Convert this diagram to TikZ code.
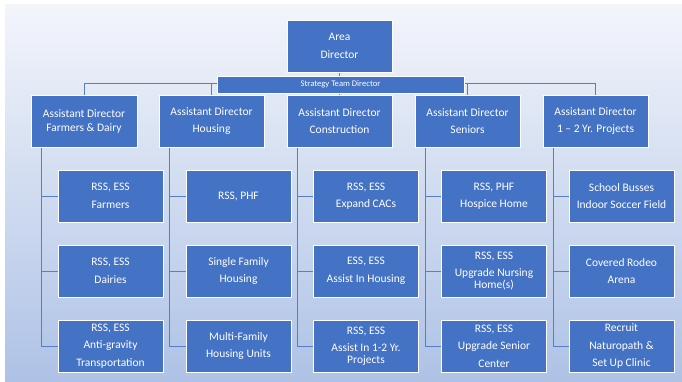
\documentclass[tikz,border=0pt]{standalone}
\usepackage{fontspec}
\setmainfont{Carlito}
\usetikzlibrary{calc,backgrounds}
\definecolor{boxblue}{HTML}{4472C4}
\definecolor{linkblue}{HTML}{5580C8}
\definecolor{bgtop}{HTML}{F3F5FB}
\definecolor{bgbot}{HTML}{AEC2E6}
\tikzset{
  orgbox/.style={draw=white, line width=0.8pt, fill=boxblue, text=white,
    minimum width=105pt, minimum height=52pt, inner sep=1pt, align=center,
    font=\fontsize{11.5}{13}\selectfont},
  stratbox/.style={draw=white, line width=0.8pt, fill=boxblue, text=white,
    minimum width=247pt, minimum height=17pt, inner sep=0pt,
    font=\fontsize{8.6}{10}\selectfont},
  link/.style={draw=linkblue, line width=1pt}
}
\begin{document}
\begin{tikzpicture}[x=1pt,y=-1pt]
\useasboundingbox (0,0) rectangle (682,381);
% boxes
\node[orgbox] (area) at (339.5,46) {Area\\[4.5pt]Director};
\node[stratbox] (strat) at (340.5,84.5) {Strategy Team Director};
\node[orgbox, minimum width=106pt] (p1) at (84,121) {Assistant Director\\[1pt]Farmers \& Dairy};
\node[orgbox] (p2) at (211.5,121) {Assistant Director\\[4.5pt]Housing};
\node[orgbox] (p3) at (339.5,121) {Assistant Director\\[4.5pt]Construction};
\node[orgbox] (p4) at (467.5,121) {Assistant Director\\[4.5pt]Seniors};
\node[orgbox] (p5) at (595.5,121) {Assistant Director\\[4.5pt]1 -- 2 Yr. Projects};
% column 1
\node[orgbox] (c11) at (110.5,196) {RSS, ESS\\[4.5pt]Farmers};
\node[orgbox] (c12) at (110.5,271) {RSS, ESS\\[4.5pt]Dairies};
\node[orgbox] (c13) at (110.5,346) {RSS, ESS\\[4.5pt]Anti-gravity\\[4.5pt]Transportation};
% column 2
\node[orgbox] (c21) at (238.5,196) {RSS, PHF};
\node[orgbox] (c22) at (238.5,271) {Single Family\\[4.5pt]Housing};
\node[orgbox] (c23) at (238.5,346) {Multi-Family\\[4.5pt]Housing Units};
% column 3
\node[orgbox] (c31) at (366,196) {RSS, ESS\\[4.5pt]Expand CACs};
\node[orgbox] (c32) at (366,271) {ESS, ESS\\[4.5pt]Assist In Housing};
\node[orgbox] (c33) at (366,346) {RSS, ESS\\[4.5pt]Assist In 1-2 Yr.\\[-1pt]Projects};
% column 4
\node[orgbox] (c41) at (494,196) {RSS, PHF\\[4.5pt]Hospice Home};
\node[orgbox] (c42) at (494,271) {RSS, ESS\\[4.5pt]Upgrade Nursing\\[-1pt]Home(s)};
\node[orgbox] (c43) at (494,346) {RSS, ESS\\[4.5pt]Upgrade Senior\\[4.5pt]Center};
% column 5
\node[orgbox] (c51) at (621.5,196) {School Busses\\[4.5pt]Indoor Soccer Field};
\node[orgbox] (c52) at (621.5,271) {Covered Rodeo\\[4.5pt]Arena};
\node[orgbox] (c53) at (621.5,346) {Recruit\\[4.5pt]Naturopath \&\\[4.5pt]Set Up Clinic};
\coordinate (hub) at (339.5,83);
\begin{scope}[on background layer]
  \shade[top color=bgtop, bottom color=bgbot] (5,4) rectangle (682,381);
  \draw[link] (area.south) -- (hub);
  \foreach \p in {p1,p2,p3,p4,p5} {\draw[link] (hub) -| (\p.north);}
  \foreach \c in {1,2,3,4,5} {
    \foreach \r in {1,2,3} {
      \draw[link] ($(p\c.south west)+(11,0)$) |- (c\c\r.west);
    }
  }
\end{scope}
\end{tikzpicture}
\end{document}
